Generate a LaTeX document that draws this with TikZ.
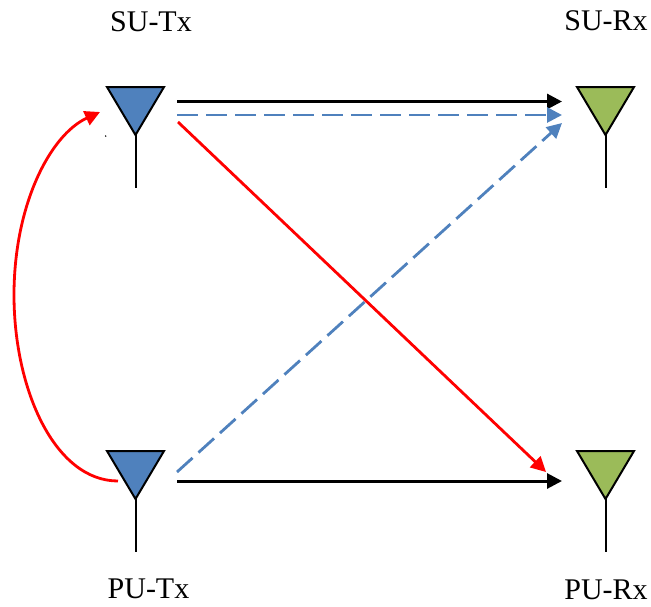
\documentclass[tikz,border=0pt]{standalone}
\usepackage{fontspec}
\setmainfont{Liberation Serif}
\usetikzlibrary{arrows.meta}
\definecolor{antblue}{HTML}{4F81BD}
\definecolor{antgreen}{HTML}{9BBB59}
\tikzset{
  every picture/.style={x=1pt,y=-1pt},
  lab/.style={font=\fontsize{30}{36}\selectfont,inner sep=0pt,text=black},
  ant/.style={draw=black,line width=2pt,line join=miter},
  stem/.style={draw=black,line width=2pt},
  tip/.style={-{Triangle[length=15pt,width=15pt]}},
  blackarrow/.style={tip,draw=black,line width=3pt},
  redarrow/.style={tip,draw=red,line width=2.8pt},
  bluearrow/.style={tip,draw=antblue,line width=2.8pt,dash pattern=on 21pt off 8pt},
}
\newcommand{\antenna}[3]{%
  \coordinate (#1) at (#2,87);
  \coordinate (#1L) at (#2-28.5,#3);
  \coordinate (#1R) at (#2+28.5,#3);
  \coordinate (#1A) at (#2,#3+48);
  \coordinate (#1S) at (#2,#3+101);
  \draw[ant,fill=#1C] (#1L) -- (#1R) -- (#1A) -- cycle;
  \draw[stem] (#1A) -- (#1S);
}
\colorlet{stxC}{antblue}\colorlet{ptxC}{antblue}
\colorlet{srxC}{antgreen}\colorlet{prxC}{antgreen}
\begin{document}
\begin{tikzpicture}
\useasboundingbox (0,0) rectangle (651,606);
\antenna{stx}{135.5}{87}
\antenna{srx}{605.5}{87}
\antenna{ptx}{135.5}{451}
\antenna{prx}{605.5}{451}
\node[lab] (stxlabel) at (151,22) {SU-Tx};
\node[lab] (srxlabel) at (606,21) {SU-Rx};
\node[lab] (ptxlabel) at (148.5,589) {PU-Tx};
\node[lab] (prxlabel) at (606,590) {PU-Rx};
\coordinate (a1) at (177,101.5);
\coordinate (b1) at (562,101.5);
\coordinate (a2) at (177,115);
\coordinate (b2) at (562,115);
\coordinate (a3) at (178,122);
\coordinate (b3) at (546,472);
\coordinate (a4) at (177,472);
\coordinate (b4) at (562,123);
\coordinate (a5) at (177,481);
\coordinate (b5) at (562,481);
\coordinate (c0) at (118,481);
\coordinate (c1) at (14,295);
\coordinate (c2) at (100,112);
\draw[blackarrow] (a1) -- (b1);
\draw[bluearrow] (a2) -- (b2);
\draw[redarrow] (a3) -- (b3);
\draw[bluearrow] (a4) -- (b4);
\draw[blackarrow] (a5) -- (b5);
\draw[redarrow] (c0) .. controls (55,481) and (14,390) .. (c1) .. controls (14,205) and (50,135) .. (c2);
\fill[black] (105.7,136) circle (0.8);
\end{tikzpicture}
\end{document}
